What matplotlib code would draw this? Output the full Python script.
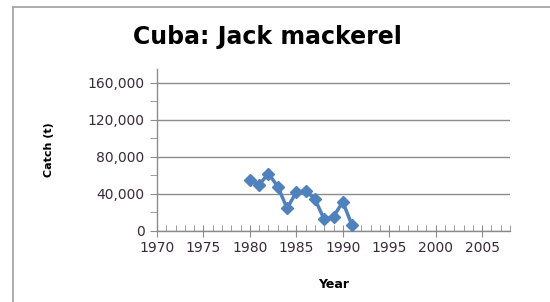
import matplotlib.pyplot as plt
from matplotlib.lines import Line2D
from matplotlib.ticker import MultipleLocator, FuncFormatter

# Cuba jack mackerel catch
years = [1980, 1981, 1982, 1983, 1984, 1985, 1986, 1987, 1988, 1989, 1990, 1991]
catch = [55000, 50000, 62000, 48000, 24500, 42000, 43500, 34500, 12500, 15500, 31500, 6000]

blue = '#4F81BD'
grey = '#8C8C8C'

fig = plt.figure(figsize=(5.5, 3.02), dpi=100)
# frame lines of the chart area (left and top only visible)
fig.add_artist(Line2D([13/550, 13/550], [0, 1 - 7/302], color='#A0A0A0', lw=1.2))
fig.add_artist(Line2D([13/550, 1], [1 - 7/302, 1 - 7/302], color='#A0A0A0', lw=1.2))

ax = fig.add_axes([157/550, 71/302, (510-157)/550, (231-69)/302])
ax.plot(years, catch, color=blue, lw=2.5, marker='D', markersize=6.5, zorder=3)

ax.set_xlim(1970, 2008)
ax.set_ylim(0, 175000)
ax.xaxis.set_major_locator(MultipleLocator(5))
ax.xaxis.set_minor_locator(MultipleLocator(1))
ax.yaxis.set_major_locator(MultipleLocator(40000))
ax.yaxis.set_minor_locator(MultipleLocator(20000))
ax.yaxis.set_major_formatter(FuncFormatter(lambda v, p: f'{int(v):,}'))

ax.grid(axis='y', which='major', color=grey, lw=1)
for s in ['top', 'right']:
    ax.spines[s].set_visible(False)
for s in ['left', 'bottom']:
    ax.spines[s].set_color(grey)
    ax.spines[s].set_linewidth(1)

ax.tick_params(axis='x', which='major', direction='inout', length=9, color=grey,
               labelsize=10, labelcolor='#3A2A3A', pad=3)
ax.tick_params(axis='x', which='minor', direction='in', length=4, color=grey)
ax.tick_params(axis='y', which='major', direction='out', length=5, color=grey,
               labelsize=10, labelcolor='#3A2A3A', pad=4)
ax.tick_params(axis='y', which='minor', direction='out', length=5, color=grey)

ax.set_ylabel('Catch (t)', fontsize=8, fontweight='bold', labelpad=24)
ax.set_xlabel('Year', fontsize=9, fontweight='bold', labelpad=16)
fig.text(267/550, 1 - 37/302, 'Cuba: Jack mackerel', ha='center', va='center',
         fontsize=17, fontweight='bold')

fig.savefig('out.png', dpi=100)
